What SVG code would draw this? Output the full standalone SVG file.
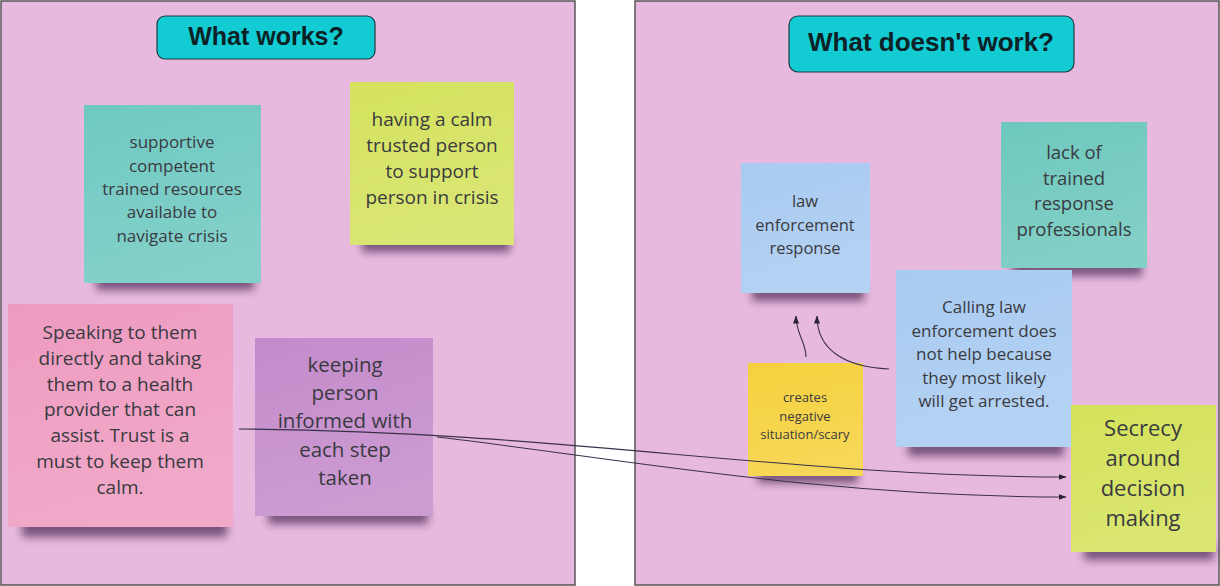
<svg xmlns="http://www.w3.org/2000/svg" width="1220" height="586" viewBox="0 0 1220 586">
<style>
.panel{fill:#e8b9de;stroke:#555;stroke-width:1.5}
.title{fill:#13cbd3;stroke:#1d3a44;stroke-width:1.2}
.tt{font-family:"Liberation Sans",Arial,sans-serif;font-weight:bold;fill:#0c2226;text-anchor:middle}
.nt{font-family:"Open Sans","Noto Sans",sans-serif;fill:#3a3a40;text-anchor:middle}
.sh{fill:#3e1f48;opacity:0.65;filter:url(#blur)}
.sheen{fill:url(#sheen)}
.con{fill:none;stroke:#3a3148;stroke-width:1.1}
</style>
<defs>
<filter id="blur" x="-20%" y="-100%" width="140%" height="300%"><feGaussianBlur stdDeviation="4"/></filter>
<linearGradient id="sheen" x1="0" y1="0" x2="0.3" y2="1">
<stop offset="0" stop-color="#fff" stop-opacity="0"/>
<stop offset="1" stop-color="#fff" stop-opacity="0.14"/>
</linearGradient>
<marker id="arr" markerUnits="userSpaceOnUse" markerWidth="8" markerHeight="6" refX="7.5" refY="3" orient="auto">
<path d="M0,0 L8,3 L0,6 z" fill="#2a2233"/>
</marker>
</defs>

<rect class="panel" x="1" y="1" width="574" height="584"/>
<rect class="panel" x="635" y="1" width="584" height="584"/>

<g id="title-works">
<rect class="title" x="157" y="16" width="218" height="43" rx="8"/>
<text class="tt" x="266" y="45" font-size="25">What works?</text>
</g>
<g id="title-doesnt">
<rect class="title" x="789" y="16" width="285" height="56" rx="9"/>
<text class="tt" x="931" y="51" font-size="26">What doesn't work?</text>
</g>

<g id="note-supportive">
<rect class="sh" x="96" y="272" width="158" height="18"/>
<rect x="84" y="105" width="177" height="178" fill="#6fc9c2"/>
<rect class="sheen" x="84" y="105" width="177" height="178"/>
<text class="nt" font-size="17" x="172"><tspan x="172" y="148">supportive</tspan><tspan x="172" y="172">competent</tspan><tspan x="172" y="195">trained resources</tspan><tspan x="172" y="218">available to</tspan><tspan x="172" y="242">navigate crisis</tspan></text>
</g>

<g id="note-calm">
<rect class="sh" x="362" y="235" width="148" height="17"/>
<rect x="350" y="82" width="164" height="163" fill="#d4e25e"/>
<rect class="sheen" x="350" y="82" width="164" height="163"/>
<text class="nt" font-size="19" x="432"><tspan x="432" y="126">having a calm</tspan><tspan x="432" y="152">trusted person</tspan><tspan x="432" y="178">to support</tspan><tspan x="432" y="204">person in crisis</tspan></text>
</g>

<g id="note-speaking">
<rect class="sh" x="22" y="517" width="205" height="20"/>
<rect x="8" y="304" width="225" height="223" fill="#ee9bc0"/>
<rect class="sheen" x="8" y="304" width="225" height="223"/>
<text class="nt" font-size="19" x="120"><tspan x="120" y="339">Speaking to them</tspan><tspan x="120" y="365">directly and taking</tspan><tspan x="120" y="391">them to a health</tspan><tspan x="120" y="416">provider that can</tspan><tspan x="120" y="442">assist. Trust is a</tspan><tspan x="120" y="468">must to keep them</tspan><tspan x="120" y="494">calm.</tspan></text>
</g>

<g id="note-informed">
<rect class="sh" x="268" y="507" width="160" height="17"/>
<rect x="255" y="338" width="178" height="178" fill="#c48bcb"/>
<rect class="sheen" x="255" y="338" width="178" height="178"/>
<text class="nt" font-size="20.5" x="345"><tspan x="345" y="372">keeping</tspan><tspan x="345" y="400">person</tspan><tspan x="345" y="428">informed with</tspan><tspan x="345" y="457">each step</tspan><tspan x="345" y="485">taken</tspan></text>
</g>

<g id="note-law">
<rect class="sh" x="752" y="285" width="112" height="16"/>
<rect x="741" y="163" width="129" height="130" fill="#a8cbf1"/>
<rect class="sheen" x="741" y="163" width="129" height="130"/>
<text class="nt" font-size="16.5" x="805"><tspan x="805" y="207">law</tspan><tspan x="805" y="230.5">enforcement</tspan><tspan x="805" y="254">response</tspan></text>
</g>

<g id="note-lack">
<rect class="sh" x="1012" y="260" width="130" height="16"/>
<rect x="1001" y="122" width="146" height="146" fill="#6ec8bd"/>
<rect class="sheen" x="1001" y="122" width="146" height="146"/>
<text class="nt" font-size="18.5" x="1074"><tspan x="1074" y="159">lack of</tspan><tspan x="1074" y="185">trained</tspan><tspan x="1074" y="210">response</tspan><tspan x="1074" y="236">professionals</tspan></text>
</g>

<g id="note-calling">
<rect class="sh" x="908" y="439" width="156" height="17"/>
<rect x="896" y="270" width="176" height="177" fill="#a8cbf1"/>
<rect class="sheen" x="896" y="270" width="176" height="177"/>
<text class="nt" font-size="17" x="984"><tspan x="984" y="313">Calling law</tspan><tspan x="984" y="336.5">enforcement does</tspan><tspan x="984" y="360">not help because</tspan><tspan x="984" y="383.5">they most likely</tspan><tspan x="984" y="407">will get arrested.</tspan></text>
</g>

<g id="note-creates">
<rect class="sh" x="758" y="468" width="100" height="15"/>
<rect x="748" y="363" width="115" height="113" fill="#f5d13c"/>
<rect class="sheen" x="748" y="363" width="115" height="113"/>
<text class="nt" font-size="13" x="805"><tspan x="805" y="402">creates</tspan><tspan x="805" y="420.5">negative</tspan><tspan x="805" y="439">situation/scary</tspan></text>
</g>

<g id="note-secrecy">
<rect class="sh" x="1084" y="543" width="130" height="17"/>
<rect x="1071" y="405" width="145" height="147" fill="#d4e25a"/>
<rect class="sheen" x="1071" y="405" width="145" height="147"/>
<text class="nt" font-size="22" x="1143"><tspan x="1143" y="436">Secrecy</tspan><tspan x="1143" y="466">around</tspan><tspan x="1143" y="496">decision</tspan><tspan x="1143" y="526">making</tspan></text>
</g>

<g id="connectors">
<path class="con" d="M239,429 C560,431 790,477 1066,477" marker-end="url(#arr)"/>
<path class="con" d="M437,437 C610,457 820,497 1066,497" marker-end="url(#arr)"/>
<path class="con" d="M806,357 C806,342 796,334 796,316" marker-end="url(#arr)"/>
<path class="con" d="M889,369 C845,367 817,350 817,316" marker-end="url(#arr)"/>
</g>
</svg>
